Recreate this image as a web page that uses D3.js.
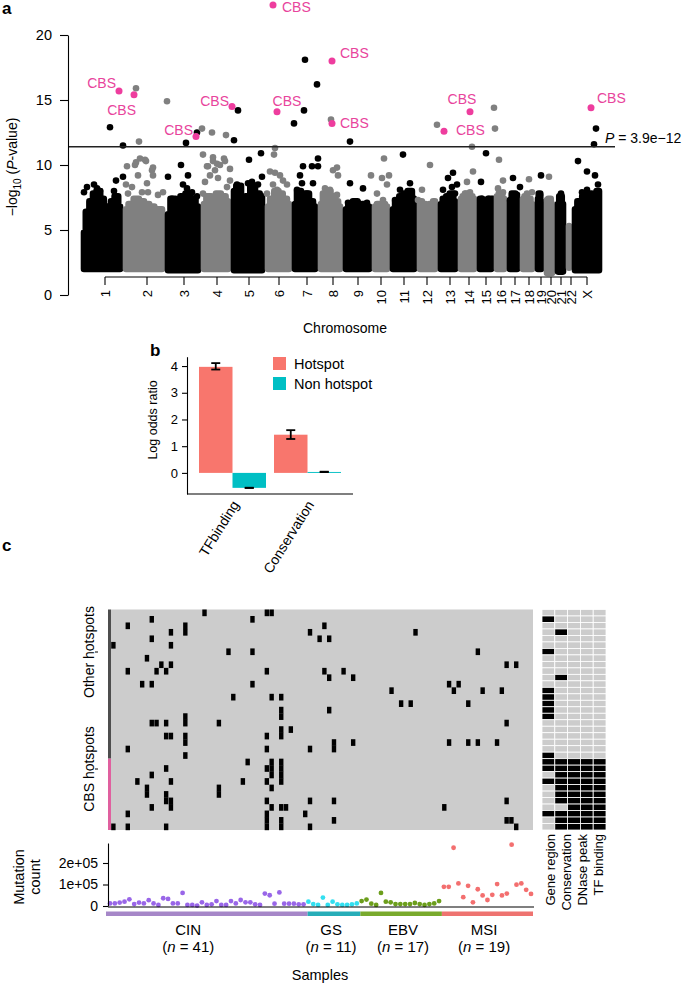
<!DOCTYPE html>
<html><head><meta charset="utf-8">
<script src="https://cdn.jsdelivr.net/npm/d3@7"></script>
<style>body{margin:0;background:#fff}svg{display:block}text{font-family:"Liberation Sans",Arial,Helvetica,sans-serif}</style>
</head><body><svg id="c" width="685" height="986"></svg>
<script>
// ================= DATA: panel a (Manhattan) =================
const chromosomes = ["1","2","3","4","5","6","7","8","9","10","11","12","13","14","15","16","17","18","19","20","21","22","X"];
// genomic index (thousands of sites) of chromosome extents
const chrStart = [0,42,84,120,150,184,211,237,262,291,309,336,357,377,396,413,426,439,454,463,474,485,491];
const chrEnd   = [42,84,120,150,184,211,237,262,291,309,336,357,377,396,413,426,439,454,463,474,485,491,521];
const chrTicks = [24,66,103,136,168,198,226,252,277,300,323,346,369,388,405,420,434,448,460,470,480,490,506];
// upper envelope of the dense bulk of -log10(P) values, evenly spaced along each chromosome
const chrBodyTop = [
  [4.8,6.4,7.2,7.8,8.0,7.4,5.6,6.8,7.2,7.6,6.8],
  [6.6,7.0,7.4,7.2,7.0,6.8,6.6,6.6],
  [6.2,7.4,7.0,7.6,7.8,7.4,6.8],
  [7.0,7.6,7.4,7.8,7.6,7.2],
  [8.0,8.4,7.4,7.6,8.4,7.8,7.6],
  [6.8,7.4,8.0,7.8,7.4,7.0],
  [7.0,8.0,7.6,7.8,7.2,6.8],
  [7.0,7.8,8.0,7.6,7.2,6.8],
  [6.6,7.0,7.2,6.6,7.0,6.8],
  [6.8,7.0,7.0,6.8],
  [6.6,7.2,7.6,7.8,8.0,7.4],
  [7.2,7.0,6.8,7.0,7.2],
  [7.0,7.4,7.6,7.8,7.2],
  [7.4,7.6,7.8,7.6,7.4],
  [7.4,6.8,7.2,7.4],
  [7.6,7.8,7.4],
  [7.2,7.8,7.4],
  [7.4,7.6,7.4,7.0],
  [7.4,7.8,7.2],
  [7.2,7.4,7.0],
  [7.0,7.6,7.0],
  [5.3,5.3],
  [6.6,7.2,7.6,7.8,7.4,8.0]
];
const chrBodyBottom = [2.0,2.0,1.9,2.0,1.9,2.0,2.0,2.0,2.0,2.0,2.0,2.0,2.0,2.0,2.0,2.0,2.0,2.0,2.0,1.7,1.8,2.1,1.9];
// individual points standing out of the bulk: [index, -log10 P]
const chrPoints = [
  [[3,7.9],[6,8.3],[13,8.5],[16,8.2],[19,8.0],[35,8.8],[33,8.0],[42,9.1],[29,12.9],[42,11.5]],
  [[47,7.8],[45,8.5],[51,8.3],[54,10.0],[57,9.2],[61,7.9],[64,10.4],[66,8.6],[71,9.6],[72,9.2],[77,7.7],[82,7.9],[67,7.9],[56,7.3],[46,9.9],[55,10.2],[59,10.5],[65,10.3],[58,11.8],[72,9.8],[55,15.9],[86,14.9]],
  [[87,9.1],[100,10.0],[107,9.2],[102,8.5],[106,8.2],[111,7.9],[116,7.6],[91,7.4],[92,7.1],[101,7.2],[105,11.7],[116,12.5]],
  [[124,8.7],[127,9.9],[132,10.3],[139,10.0],[144,10.3],[137,9.0],[146,8.3],[142,7.6],[129,9.2],[134,9.6],[149,8.8],[122,7.8],[122,10.8],[132,10.6],[143,10.5],[126,9.9],[136,10.1],[149,9.7],[121,12.8],[131,12.5],[145,12.3]],
  [[156,8.5],[167,8.6],[171,8.7],[181,9.1],[177,8.5],[168,10.4],[180,10.9],[157,14.2],[153,11.9]],
  [[189,9.5],[194,9.4],[199,9.2],[202,8.8],[206,8.5],[192,8.5],[186,7.8],[196,8.1],[193,10.8],[194,11.3]],
  [[222,9.9],[231,9.9],[219,9.2],[221,8.6],[232,8.6],[216,8.1],[226,7.8],[237,10.5],[237,9.9],[213,13.2],[223,14.2],[224,18.1],[236,16.2]],
  [[252,9.6],[257,9.2],[244,8.2],[249,8.1],[256,7.7],[256,9.8],[250,13.5]],
  [[269,8.6],[282,8.2],[277,7.1],[267,7.1],[286,7.1],[269,11.8]],
  [[290,9.2],[301,9.0],[308,9.2],[306,8.5],[296,7.8],[302,7.3],[303,10.5]],
  [[329,8.6],[319,8.1],[327,7.9],[314,7.3],[331,7.6],[322,10.8]],
  [[349,10.0],[341,8.1],[337,7.3],[356,13.1]],
  [[367,9.0],[372,9.4],[371,8.3],[362,8.1],[374,7.8],[376,8.5]],
  [[386,8.7],[392,9.5],[384,7.8],[389,7.9],[391,11.4]],
  [[400,8.7],[401,7.4],[407,7.4],[412,7.4],[405,10.9]],
  [[418,10.4],[422,8.8],[417,8.2],[422,7.9],[413,14.4],[414,12.8]],
  [[432,9.0],[439,8.3],[436,7.7],[429,7.3]],
  [[448,8.9],[451,7.9],[446,7.8]],
  [[460,9.2],[459,7.7]],
  [[468,9.1],[466,7.3]],
  [[480,7.8]],
  [],
  [[497,10.3],[506,9.5],[514,9.2],[517,8.5],[501,7.9],[506,8.1],[515,12.8],[513,11.6]]
];
// CBS hotspots
const cbsPos = [38,53,115,151,196,192,251,251,363,389,510];
const cbsVal = [15.7,15.4,12.2,14.5,14.1,22.3,18.0,13.2,12.6,14.1,14.4];
const thresholdP = 3.9e-12;
const yTicksA = [0,5,10,15,20];

// ================= DATA: panel b =================
const features = ["TFbinding","Conservation"];
const groupsB = ["Hotspot","Non hotspot"];
const hotspotLOR = [3.97,1.43];
const hotspotLo  = [3.87,1.27];
const hotspotHi  = [4.11,1.60];
const nonhotLOR  = [-0.56,0.035];
const nonhotLo   = [-0.565,0.03];
const nonhotHi   = [-0.555,0.045];
const yTicksB = [0,1,2,3,4];

// ================= DATA: panel c =================
const subtypes = ["CIN","GS","EBV","MSI"];
const subtypeN = [41,11,17,19];
const mutCIN = [12,12,16,20,31,9,16,12,27,12,5,36,33,12,12,61,5,5,2,17,5,8,23,5,5,23,12,28,17,17,8,5,58,50,11,63,11,11,11,8,8].map(v=>v*1000);
const mutGS  = [20,9,5,39,5,20,8,5,5,8,12].map(v=>v*1000);
const mutEBV = [23,30,11,5,61,20,17,9,9,9,9,14,9,5,9,12,23].map(v=>v*1000);
const mutMSI = [89,89,271,105,41,94,17,78,49,28,52,102,49,58,285,99,105,75,56].map(v=>v*1000);
const mutTicks = [0,100000,200000];
const mutTickLabels = ["0","1e+05","2e+05"];
// hotspot rows: 23 other hotspots then 11 CBS hotspots
const hotspotGroups = ["Other hotspots","CBS hotspots"];
const hotspotGroupSize = [23,11];
// mutated samples (0-based sample index) per hotspot row
const mutatedSamples = [
  [19,32,33],[8,29],[3,15,44],[12,15,41,63],[8,43,45],[0,12],[24,29,76],[7],
  [10,12,82,84],[3,9,11,32,44,48],[45,50],[6,8,29,70,72],[58,71,77,81],[25,33,35],
  [60,62,74],[35,45],[15,35],[8,9,11,15,22,82],[35,37],[11,12,15,32,35],
  [15,46,50,70,74,76,80],[3,32,41,46],[15],
  [28,33,35],[11,32,33,35],[8,33,35],[5,12,27,32,35],[7,22,33],[7,11,22],
  [11,12,32,41,46,82],[8,12,33,35,36,69],[3,32,40],[32,35,46,82,83],[0,3,11,32,35,41,84]
];
// annotation matrix columns (rows that are annotated)
const annotLabels = ["Gene region","Conservation","DNase peak","TF binding"];
const annotColumns = [
  [1,6,12,13,14,15,16,22,23,24,26,31],
  [3,10,23,24,25,26,27,28,29,31,32,33],
  [23,24,25,26,27,28,29,30,31,32,33],
  [23,24,25,26,27,28,29,30,31,32,33],
  [23,24,25,26,27,28,29,30,31,32,33]
];

// ================= DRAWING =================
const svg = d3.select("#c");
const FONT = "Liberation Sans, Arial, sans-serif";
const pink = "#ee3d9e";

// panel letters
svg.append("text").attr("x",2).attr("y",14).attr("font-size",17).attr("font-weight","bold").text("a");
svg.append("text").attr("x",150).attr("y",356).attr("font-size",17).attr("font-weight","bold").text("b");
svg.append("text").attr("x",2).attr("y",551).attr("font-size",17).attr("font-weight","bold").text("c");

// ---------- panel a ----------
const xA = d3.scaleLinear().domain([0,521]).range([81,602]);
const yA = d3.scaleLinear().domain([0,20]).range([295,35]);
const gA = svg.append("g");

chromosomes.forEach((c,i)=>{
  const col = i%2===0 ? "#000000" : "#808080";
  const top = chrBodyTop[i], n = top.length;
  const s = chrStart[i]+3, e = chrEnd[i]-3;
  const pts = top.map((v,k)=>({x: n===1 ? (s+e)/2 : s+(e-s)*k/(n-1), v}));
  const area = d3.area().curve(d3.curveStep).x(d=>xA(d.x)).y0(yA(chrBodyBottom[i])).y1(d=>yA(d.v));
  gA.append("path").attr("d",area(pts)).attr("fill",col).attr("stroke",col)
    .attr("stroke-width",6.6).attr("stroke-linejoin","round");
  gA.selectAll(null).data(chrPoints[i]).enter().append("circle")
    .attr("cx",d=>xA(d[0])).attr("cy",d=>yA(d[1])).attr("r",3.3).attr("fill",col);
});

// threshold
const thr = -Math.log10(thresholdP);
gA.append("line").attr("x1",68).attr("x2",615).attr("y1",yA(thr)).attr("y2",yA(thr))
  .attr("stroke","#222").attr("stroke-width",1.4);
const pt = gA.append("text").attr("x",605).attr("y",yA(thr)-4).attr("font-size",14);
pt.append("tspan").attr("font-style","italic").text("P");
pt.append("tspan").text(" = 3.9e\u221212");

// CBS points and labels
const cbsLabelOffsets = [[-3,-3,"end"],[2,20,"end"],[-3,-1,"end"],[-3,-1,"end"],[10,-6,"middle"],[9,7,"start"],[8,-3,"start"],[8,5,"start"],[12,4,"start"],[-8,-8,"middle"],[6,-5,"start"]];
cbsPos.forEach((p,i)=>{
  gA.append("circle").attr("cx",xA(p)).attr("cy",yA(cbsVal[i])).attr("r",3.5).attr("fill",pink);
  const o = cbsLabelOffsets[i];
  gA.append("text").attr("x",xA(p)+o[0]).attr("y",yA(cbsVal[i])+o[1]).attr("text-anchor",o[2])
    .attr("font-size",14).attr("fill","#e8449c").text("CBS");
});

// y axis
const ayA = svg.append("g").attr("transform","translate(68,0)")
  .call(d3.axisLeft(yA).tickValues(yTicksA).tickFormat(d3.format("d")).tickSize(8).tickSizeOuter(0).tickPadding(8));
ayA.selectAll("text").attr("font-size",14.5).attr("font-family",FONT).attr("fill","#000");
ayA.selectAll("line,path").attr("stroke","#000").attr("stroke-width",1.1);

// x axis (first to last tick)
const axA = svg.append("g");
axA.append("line").attr("x1",xA(chrTicks[0])).attr("x2",xA(chrTicks[chrTicks.length-1]))
  .attr("y1",277).attr("y2",277).attr("stroke","#000").attr("stroke-width",1.1);
chrTicks.forEach((t,i)=>{
  axA.append("line").attr("x1",xA(t)).attr("x2",xA(t)).attr("y1",277).attr("y2",285).attr("stroke","#000").attr("stroke-width",1.1);
  axA.append("text").attr("transform",`translate(${xA(t)},290) rotate(-90)`).attr("text-anchor","end")
    .attr("dy","0.35em").attr("font-size",13).text(chromosomes[i]);
});
svg.append("text").attr("x",345).attr("y",333).attr("text-anchor","middle").attr("font-size",14).text("Chromosome");
const ylab = svg.append("text").attr("transform","translate(17,167) rotate(-90)").attr("text-anchor","middle").attr("font-size",14);
ylab.append("tspan").text("\u2212log");
ylab.append("tspan").attr("font-size",10).attr("dy",4).text("10");
ylab.append("tspan").attr("dy",-4).text(" (");
ylab.append("tspan").attr("font-style","italic").text("P");
ylab.append("tspan").text("-value)");

// ---------- panel b ----------
const xB = d3.scaleBand().domain(features).range([199,341]).paddingInner(8/75);
const xBs = d3.scaleBand().domain(groupsB).range([0,xB.bandwidth()]);
const yB = d3.scaleLinear().domain([-0.79,4.35]).range([494,356.7]);
const colB = {"Hotspot":"#F8766D","Non hotspot":"#00BFC4"};
const gB = svg.append("g");
const barsB = [];
features.forEach((f,i)=>{
  barsB.push({f,g:"Hotspot",v:hotspotLOR[i],lo:hotspotLo[i],hi:hotspotHi[i]});
  barsB.push({f,g:"Non hotspot",v:nonhotLOR[i],lo:nonhotLo[i],hi:nonhotHi[i]});
});
gB.selectAll("rect.bar").data(barsB).enter().append("rect")
  .attr("x",d=>xB(d.f)+xBs(d.g)).attr("width",xBs.bandwidth())
  .attr("y",d=>yB(Math.max(0,d.v))).attr("height",d=>Math.abs(yB(d.v)-yB(0)))
  .attr("fill",d=>colB[d.g]);
barsB.forEach(d=>{
  const cx = xB(d.f)+xBs(d.g)+xBs.bandwidth()/2;
  gB.append("line").attr("x1",cx).attr("x2",cx).attr("y1",yB(d.lo)).attr("y2",yB(d.hi)).attr("stroke","#000").attr("stroke-width",1.8);
  [d.lo,d.hi].forEach(v=>gB.append("line").attr("x1",cx-4.5).attr("x2",cx+4.5).attr("y1",yB(v)).attr("y2",yB(v)).attr("stroke","#000").attr("stroke-width",1.8));
});
const ayB = svg.append("g").attr("transform","translate(187,0)")
  .call(d3.axisLeft(yB).tickValues(yTicksB).tickFormat(d3.format("d")).tickSize(5).tickSizeOuter(0).tickPadding(4));
ayB.selectAll("text").attr("font-size",13).attr("font-family",FONT).attr("fill","#000");
ayB.selectAll("line,path").attr("stroke","#000").attr("stroke-width",1.1);
svg.append("line").attr("x1",187).attr("x2",353).attr("y1",494).attr("y2",494).attr("stroke","#000").attr("stroke-width",1.1);
features.forEach(f=>{
  svg.append("text").attr("transform",`translate(${xB(f)+xB.bandwidth()/2+3},502) rotate(-58)`)
    .attr("text-anchor","end").attr("dy","0.35em").attr("font-size",14).text(f);
});
svg.append("text").attr("transform","translate(157,420) rotate(-90)").attr("text-anchor","middle").attr("font-size",12.5).text("Log odds ratio");
groupsB.forEach((g,i)=>{
  svg.append("rect").attr("x",273).attr("y",357+20*i).attr("width",13).attr("height",13).attr("fill",colB[g]);
  svg.append("text").attr("x",294).attr("y",368.5+20*i).attr("font-size",14.5).text(g);
});

// ---------- panel c ----------
const nS = d3.sum(subtypeN);
const nR = mutatedSamples.length;
const xC = d3.scaleBand().domain(d3.range(nS)).range([111,533]);
const yC = d3.scaleBand().domain(d3.range(nR)).range([609.5,830]);
const gC = svg.append("g");
gC.append("rect").attr("x",111).attr("y",609.5).attr("width",422).attr("height",220.5).attr("fill","#cccccc");
mutatedSamples.forEach((row,r)=>{
  row.forEach(s=>{
    gC.append("rect").attr("x",xC(s)+0.2).attr("y",yC(r)).attr("width",xC.bandwidth()-0.4).attr("height",yC.bandwidth()+0.2).attr("fill","#000");
  });
});
// group side bar
let r0 = 0;
const groupCol = ["#4d4d4d","#e0609f"];
hotspotGroups.forEach((g,i)=>{
  const y0 = yC(r0), y1 = yC(r0+hotspotGroupSize[i]-1)+yC.bandwidth();
  gC.append("rect").attr("x",108).attr("y",y0).attr("width",3).attr("height",y1-y0).attr("fill",groupCol[i]);
  r0 += hotspotGroupSize[i];
});
[["Other hotspots",652],["CBS hotspots",769]].forEach(([t,y])=>{
  svg.append("line").attr("x1",95).attr("x2",98).attr("y1",y).attr("y2",y).attr("stroke","#000");
  svg.append("text").attr("transform",`translate(94,${y}) rotate(-90)`).attr("text-anchor","middle").attr("font-size",14).text(t);
});
// annotation matrix
const xR = d3.scaleBand().domain(d3.range(annotColumns.length)).range([542,606]);
annotColumns.forEach((rows,j)=>{
  d3.range(nR).forEach(r=>{
    gC.append("rect").attr("x",xR(j)).attr("y",yC(r)).attr("width",xR.bandwidth()).attr("height",yC.bandwidth())
      .attr("fill",rows.includes(r)?"#000":"#cccccc").attr("stroke","#fff").attr("stroke-width",0.8);
  });
});
const xRL = d3.scaleBand().domain(annotLabels).range([542,606]);
annotLabels.forEach(l=>{
  svg.append("text").attr("transform",`translate(${xRL(l)+xRL.bandwidth()/2},834) rotate(-90)`)
    .attr("text-anchor","end").attr("dy","0.35em").attr("font-size",13).text(l);
});

// mutation count scatter
const xM = d3.scalePoint().domain(d3.range(nS)).range([110,531]);
const yM = d3.scaleLinear().domain([0,293000]).range([906,843]);
const mutAll = [mutCIN,mutGS,mutEBV,mutMSI];
const ptCol = ["#9966e8","#33dff0","#6c9e1c","#f36f6f"];
const barCol = ["#a687c8","#27adb8","#79aa2d","#ee7370"];
let s0 = 0;
const labelIdx = [15.6,45.4,60.4,77.3];
mutAll.forEach((arr,gi)=>{
  arr.forEach((v,k)=>{
    svg.append("circle").attr("cx",xM(s0+k)).attr("cy",yM(v)).attr("r",2.4).attr("fill",ptCol[gi]);
  });
  const xa = gi===0 ? 106 : xC(s0), xb = gi===3 ? 533 : xC(s0+arr.length);
  svg.append("rect").attr("x",xa).attr("y",911.5).attr("width",xb-xa).attr("height",4.5).attr("fill",barCol[gi]);
  s0 += arr.length;
});
const lblX = d3.scaleLinear().domain([0,nS-1]).range([113.4,530.6]);
subtypes.forEach((s,i)=>{
  svg.append("text").attr("x",lblX(labelIdx[i])).attr("y",935).attr("text-anchor","middle").attr("font-size",15).text(s);
  const t = svg.append("text").attr("x",lblX(labelIdx[i])).attr("y",952).attr("text-anchor","middle").attr("font-size",15);
  t.append("tspan").text("(");
  t.append("tspan").attr("font-style","italic").text("n");
  t.append("tspan").text(" = "+subtypeN[i]+")");
});
const ayM = svg.append("g").attr("transform","translate(108,0)")
  .call(d3.axisLeft(yM).tickValues(mutTicks).tickFormat((d,i)=>mutTickLabels[i]).tickSize(5).tickSizeOuter(0).tickPadding(5));
ayM.selectAll("text").attr("font-size",14).attr("font-family",FONT).attr("fill","#000");
ayM.selectAll("line,path").attr("stroke","#000").attr("stroke-width",1.1);
svg.append("line").attr("x1",108).attr("x2",534).attr("y1",907).attr("y2",907).attr("stroke","#000").attr("stroke-width",1.1);
const ml = svg.append("text").attr("transform","translate(0,877) rotate(-90)").attr("text-anchor","middle").attr("font-size",14.5);
ml.append("tspan").attr("x",0).attr("y",24).text("Mutation");
ml.append("tspan").attr("x",0).attr("y",40).text("count");
svg.append("text").attr("x",320).attr("y",980).attr("text-anchor","middle").attr("font-size",14.5).text("Samples");
</script></body></html>
